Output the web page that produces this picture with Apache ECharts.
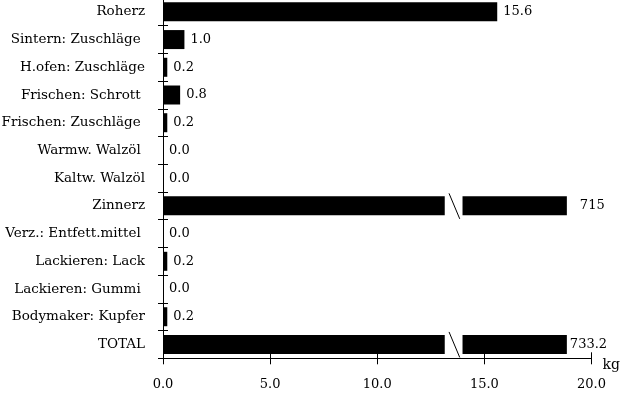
<!DOCTYPE html>
<html>
<head>
<meta charset="utf-8">
<script src="https://cdn.jsdelivr.net/npm/echarts@6/dist/echarts.min.js"></script>
<style>
  html, body { margin: 0; padding: 0; background: #fff; }
  #chart { width: 630px; height: 397px; }
</style>
</head>
<body>
<div id="chart"></div>
<script>
// Kategorien (von oben nach unten)
var categories = [
  'Roherz', 'Sintern: Zuschläge ', 'H.ofen: Zuschläge', 'Frischen: Schrott ',
  'Frischen: Zuschläge ', 'Warmw. Walzöl ', 'Kaltw. Walzöl', 'Zinnerz',
  'Verz.: Entfett.mittel ', 'Lackieren: Lack', 'Lackieren: Gummi ',
  'Bodymaker: Kupfer', 'TOTAL'
];
// Werte in kg
var values = [15.6, 1.0, 0.2, 0.8, 0.2, 0.0, 0.0, 715, 0.0, 0.2, 0.0, 0.2, 733.2];
var xTicks = [0, 5, 10, 15, 20];

var xMax = 20;
var breakShown = 18.85;          // Länge der unterbrochenen Balken
var gapStart = 13.15, gapEnd = 13.98;

var font = 'DejaVu Serif';

function fmt(v) {
  return (v >= 100 && Number.isInteger(v)) ? String(v) : v.toFixed(1);
}

var barData = values.map(function (v, i) {
  var item = { value: v > xMax ? breakShown : v, real: v };
  if (v > xMax) {
    item.label = { distance: categories[i] === 'TOTAL' ? 3 : 13 };
  }
  return item;
});

var breakData = [];
values.forEach(function (v, i) {
  if (v > xMax) breakData.push([gapStart, gapEnd, i]);
});

var chart = echarts.init(document.getElementById('chart'));
var option = {
  animation: false,
  grid: {
    left: 163, right: 38.5, top: -2, bottom: 38.7,
    containLabel: false, outerBoundsMode: 'none'
  },
  xAxis: [
    {
      type: 'value', min: 0, max: xTicks[xTicks.length - 1], interval: 5,
      name: 'kg', nameLocation: 'end', nameGap: 11,
      nameTextStyle: { fontFamily: font, fontSize: 14, color: '#000', verticalAlign: 'top' },
      axisLine: { show: true, lineStyle: { color: '#000', width: 1 } },
      axisTick: { show: true, length: 6, lineStyle: { color: '#000' } },
      axisLabel: {
        fontFamily: font, fontSize: 13, color: '#000', margin: 20,
        formatter: function (v) { return v.toFixed(1); }
      },
      splitLine: { show: false }
    },
    {
      type: 'value', position: 'bottom', min: 0, max: 20, interval: 5,
      axisLine: { show: false },
      axisTick: { show: true, inside: true, length: 6, lineStyle: { color: '#000' } },
      axisLabel: { show: false },
      splitLine: { show: false }
    }
  ],
  yAxis: [
    {
      type: 'category', data: categories, inverse: true,
      axisLine: { show: true, lineStyle: { color: '#000', width: 1 } },
      axisTick: { show: true, length: 5, lineStyle: { color: '#000' } },
      axisLabel: { fontFamily: font, fontSize: 13.5, color: '#000', margin: 18 }
    },
    {
      type: 'category', data: categories, inverse: true, position: 'left',
      axisLine: { show: false },
      axisTick: { show: true, inside: true, length: 5, lineStyle: { color: '#000' } },
      axisLabel: { show: false }
    }
  ],
  series: [
    {
      type: 'bar',
      data: barData,
      barWidth: 19,
      itemStyle: { color: '#000' },
      label: {
        show: true, position: 'right', distance: 6,
        fontFamily: font, fontSize: 13, color: '#000',
        formatter: function (p) { return fmt(p.data.real); }
      }
    },
    {
      type: 'custom',
      z: 5,
      encode: { x: [0, 1], y: 2 },
      data: breakData,
      renderItem: function (params, api) {
        var p1 = api.coord([api.value(0), api.value(2)]);
        var p2 = api.coord([api.value(1), api.value(2)]);
        return {
          type: 'group',
          children: [
            {
              type: 'rect',
              shape: { x: p1[0], y: p1[1] - 11, width: p2[0] - p1[0], height: 22 },
              style: { fill: '#fff' }
            },
            {
              type: 'line',
              shape: { x1: p1[0] + 4.3, y1: p1[1] - 12.5, x2: p1[0] + 15, y2: p1[1] + 13 },
              style: { stroke: '#000', lineWidth: 1 }
            }
          ]
        };
      }
    }
  ]
};
chart.setOption(option);
window.addEventListener('resize', function () { chart.resize(); });
</script>
</body>
</html>
